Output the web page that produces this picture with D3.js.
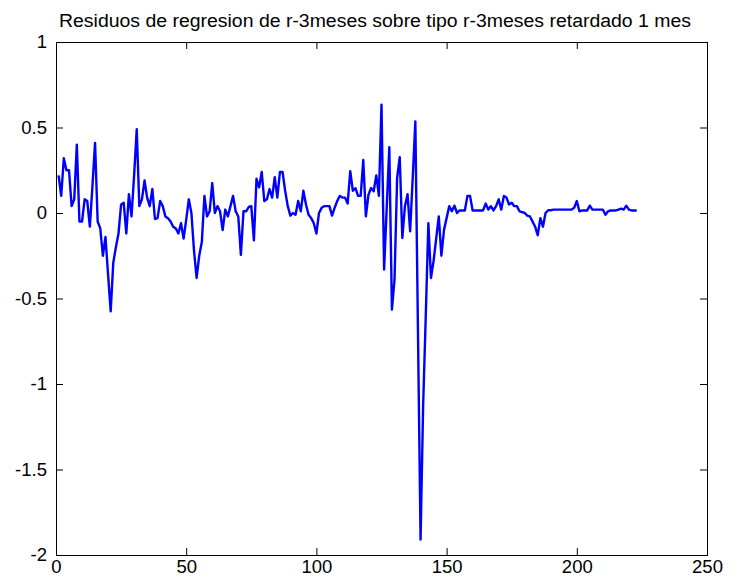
<!DOCTYPE html>
<html>
<head>
<meta charset="utf-8">
<script src="https://cdn.jsdelivr.net/npm/d3@7"></script>
<style>
  html, body { margin: 0; padding: 0; background: #fff; }
  svg { display: block; font-family: "Liberation Sans", Arial, sans-serif; }
</style>
</head>
<body>
<svg id="chart"></svg>
<script>
// titulo y marcas de los ejes
const titulo = "Residuos de regresion de r-3meses sobre tipo r-3meses retardado 1 mes";
const xTicks = [0, 50, 100, 150, 200, 250];
const yTicks = [1, 0.5, 0, -0.5, -1, -1.5, -2];
const xTickLabels = ["0", "50", "100", "150", "200", "250"];
const yTickLabels = ["1", "0.5", "0", "-0.5", "-1", "-1.5", "-2"];

// residuos, un valor por mes (x = 1..n)
const residuos = [
  0.22, 0.10, 0.32, 0.25, 0.25, 0.04, 0.08, 0.40, -0.05, -0.05,
  0.08, 0.07, -0.08, 0.16, 0.41, -0.05, -0.09, -0.25, -0.14, -0.36,
  -0.575, -0.29, -0.20, -0.12, 0.05, 0.06, -0.12, 0.11, -0.02, 0.22,
  0.49, 0.04, 0.08, 0.19, 0.09, 0.04, 0.14, -0.035, -0.03, 0.07,
  0.04, -0.02, -0.03, -0.05, -0.08, -0.09, -0.12, -0.06, -0.15, -0.04,
  0.08, 0.0, -0.22, -0.38, -0.25, -0.17, 0.10, -0.02, 0.01, 0.175,
  0.0, 0.04, 0.01, -0.10, 0.02, -0.02, 0.04, 0.10, 0.01, -0.02,
  -0.245, 0.01, 0.01, 0.035, 0.04, -0.16, 0.20, 0.15, 0.24, 0.07,
  0.08, 0.14, 0.09, 0.21, 0.09, 0.24, 0.24, 0.13, 0.04, -0.015,
  0.0, -0.01, 0.07, 0.01, 0.13, 0.05, -0.01, -0.03, -0.06, -0.12,
  0.0, 0.03, 0.04, 0.04, 0.04, -0.015, 0.03, 0.07, 0.10, 0.09,
  0.09, 0.055, 0.245, 0.13, 0.145, 0.10, 0.10, 0.31, -0.02, 0.107,
  0.146, 0.127, 0.22, 0.10, 0.633, -0.33, 0.03, 0.385, -0.565, -0.39,
  0.205, 0.327, -0.146, 0.04, 0.11, -0.107, 0.21, 0.536, -0.69, -1.91,
  -1.12, -0.60, -0.06, -0.38, -0.28, -0.15, -0.02, -0.25, -0.10, -0.03,
  0.04, 0.01, 0.043, 0.0, 0.015, 0.015, 0.015, 0.10, 0.10, 0.015,
  0.015, 0.015, 0.015, 0.015, 0.055, 0.02, 0.04, 0.015, 0.04, 0.08,
  0.02, 0.10, 0.09, 0.05, 0.06, 0.04, 0.04, 0.01, 0.005, 0.0,
  -0.015, -0.02, -0.05, -0.08, -0.13, -0.03, -0.08, 0.0, 0.016, 0.016,
  0.02, 0.02, 0.02, 0.02, 0.02, 0.02, 0.02, 0.02, 0.03, 0.07,
  0.01, 0.015, 0.015, 0.015, 0.043, 0.02, 0.02, 0.02, 0.02, 0.02,
  -0.01, 0.01, 0.015, 0.015, 0.015, 0.02, 0.025, 0.02, 0.043, 0.02,
  0.015, 0.015, 0.015
];

const width = 733;
const height = 586;
const marge = { top: 42, right: 26, bottom: 31, left: 56 };
const w = width - marge.left - marge.right;
const h = height - marge.top - marge.bottom;

const svg = d3.select("#chart")
  .attr("width", width)
  .attr("height", height);

svg.append("rect")
  .attr("width", width)
  .attr("height", height)
  .attr("fill", "#fff");

const g = svg.append("g")
  .attr("transform", `translate(${marge.left},${marge.top})`);

// escalas
const xScale = d3.scaleLinear().domain([0, 250]).range([0, w]);
const yScale = d3.scaleLinear().domain([-2, 1]).range([h, 0]);

const tickLen = 7;
const fmtX = d => xTickLabels[xTicks.indexOf(d)];
const fmtY = d => yTickLabels[yTicks.indexOf(d)];

// ejes con marcas hacia dentro (estilo matlab)
const gx = g.append("g")
  .attr("transform", `translate(0,${h})`)
  .call(d3.axisBottom(xScale).tickValues(xTicks).tickFormat(fmtX)
    .tickSizeInner(-tickLen).tickSizeOuter(0).tickPadding(5));
const gxTop = g.append("g")
  .call(d3.axisTop(xScale).tickValues(xTicks).tickFormat("")
    .tickSizeInner(-tickLen).tickSizeOuter(0));
const gy = g.append("g")
  .call(d3.axisLeft(yScale).tickValues(yTicks).tickFormat(fmtY)
    .tickSizeInner(-tickLen).tickSizeOuter(0).tickPadding(9));
const gyRight = g.append("g")
  .attr("transform", `translate(${w},0)`)
  .call(d3.axisRight(yScale).tickValues(yTicks).tickFormat("")
    .tickSizeInner(-tickLen).tickSizeOuter(0));

[gx, gxTop, gy, gyRight].forEach(a => {
  a.select(".domain").remove();
  a.selectAll(".tick line").attr("stroke", "#000").attr("stroke-width", 1);
  a.selectAll(".tick text")
    .attr("fill", "#000")
    .style("font-family", "'Liberation Sans', Arial, sans-serif")
    .style("font-size", "18.5px");
});

// caja
g.append("rect")
  .attr("x", 0.5)
  .attr("y", 0.5)
  .attr("width", w)
  .attr("height", h)
  .attr("fill", "none")
  .attr("stroke", "#000")
  .attr("stroke-width", 1);

// linea de residuos
const line = d3.line()
  .x((d, i) => xScale(i + 1))
  .y(d => yScale(d));

g.append("path")
  .datum(residuos)
  .attr("fill", "none")
  .attr("stroke", "#0000ff")
  .attr("stroke-width", 2.4)
  .attr("stroke-linejoin", "round")
  .attr("d", line);

// titulo
svg.append("text")
  .attr("x", 375)
  .attr("y", 27)
  .attr("text-anchor", "middle")
  .attr("fill", "#000")
  .attr("textLength", 632)
  .attr("lengthAdjust", "spacingAndGlyphs")
  .style("font-size", "18px")
  .text(titulo);
</script>
</body>
</html>
